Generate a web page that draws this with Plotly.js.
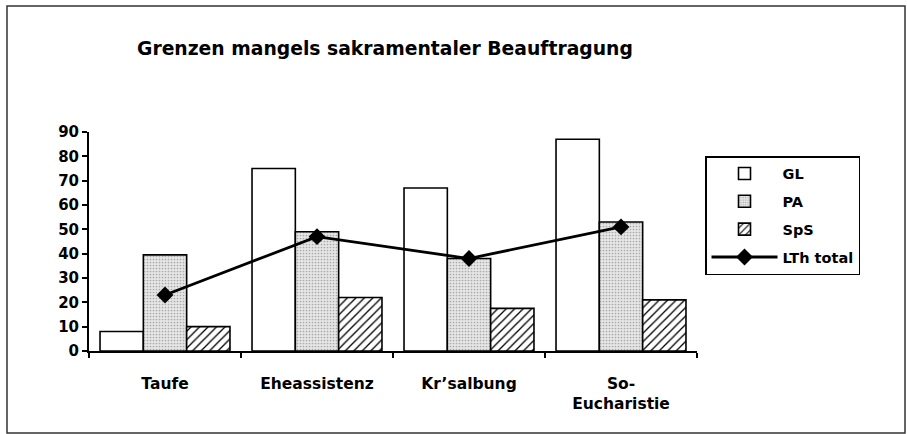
<!DOCTYPE html>
<html>
<head>
<meta charset="utf-8">
<script src="https://cdn.plot.ly/plotly-3.0.1.min.js"></script>
<style>
  html, body { margin: 0; padding: 0; background: #fff; }
  #chart { width: 907px; height: 434px; }
</style>
</head>
<body>
<div id="chart"></div>
<script>
// Sacramental tasks and survey results (percent)
const categories = ['Taufe', 'Eheassistenz', 'Kr\u2019salbung', 'So-<br>Eucharistie'];
const glValues   = [8, 75, 67, 87];
const paValues   = [39.5, 49, 38, 53];
const spsValues  = [10, 22, 17.5, 21];
const lthTotal   = [23, 47, 38, 51];
const yTicks     = [0, 10, 20, 30, 40, 50, 60, 70, 80, 90];

const W = 907, H = 434;
const margin = { l: 89, r: 210, t: 132, b: 83, pad: 0 };
const plotW = W - margin.l - margin.r;
const plotH = H - margin.t - margin.b;
// pixel -> paper coordinate helpers
const px = x => (x - margin.l) / plotW;
const py = y => (H - margin.b - y) / plotH;

const fontFam = 'DejaVu Sans, Arial, sans-serif';
const boldFont = (size) => ({ family: fontFam, size: size, color: '#000', weight: 'bold' });

const outline = { color: '#000', width: 1.6 };

const traces = [
  {
    type: 'bar', name: 'GL', x: categories, y: glValues,
    marker: { color: '#ffffff', line: outline },
    legendgroup: 'g1'
  },
  {
    type: 'bar', name: 'PA', x: categories, y: paValues,
    marker: {
      color: '#e3e3e3', line: outline,
      pattern: { shape: '.', fgcolor: '#a8a8a8', bgcolor: '#e6e6e6', size: 3, solidity: 0.25 }
    },
    legendgroup: 'g2'
  },
  {
    type: 'bar', name: 'SpS', x: categories, y: spsValues,
    marker: {
      color: '#ffffff', line: outline,
      pattern: { shape: '/', fgcolor: '#000', bgcolor: '#fff', size: 6, solidity: 0.22 }
    },
    legendgroup: 'g3'
  },
  {
    type: 'scatter', mode: 'lines+markers', name: 'LTh total', x: categories, y: lthTotal,
    line: { color: '#000', width: 2.8 },
    marker: { symbol: 'diamond', size: 13, color: '#000' },
    legendgroup: 'g4'
  }
];

const layout = {
  width: W, height: H,
  margin: margin,
  paper_bgcolor: '#fff', plot_bgcolor: '#fff',
  showlegend: true,
  barmode: 'group', bargap: 0.145, bargroupgap: 0,
  title: {
    text: 'Grenzen mangels sakramentaler Beauftragung',
    font: boldFont(18.75),
    xref: 'paper', x: px(137), xanchor: 'left',
    yref: 'container', y: 1 - 48 / H, yanchor: 'middle'
  },
  xaxis: {
    type: 'category',
    showline: true, linecolor: '#000', linewidth: 2,
    ticks: 'outside', tickson: 'boundaries', ticklen: 5, tickwidth: 2, tickcolor: '#000',
    tickfont: boldFont(15.5), ticklabelstandoff: 17,
    showgrid: false, zeroline: false, fixedrange: true
  },
  yaxis: {
    range: [0, 90], tickvals: yTicks,
    showline: true, linecolor: '#000', linewidth: 2,
    ticks: 'outside', ticklen: 5, tickwidth: 2, tickcolor: '#000',
    tickfont: boldFont(15),
    showgrid: false, zeroline: false, fixedrange: true
  },
  legend: {
    x: px(705), y: py(156), xanchor: 'left', yanchor: 'top',
    bordercolor: '#000', borderwidth: 1.5, bgcolor: '#fff',
    font: boldFont(14.5),
    traceorder: 'grouped', tracegroupgap: 6,
    itemwidth: 66
  },
  shapes: [
    {
      type: 'rect', xref: 'paper', yref: 'paper',
      x0: px(7), x1: px(905), y0: py(433), y1: py(6),
      line: { color: '#333', width: 1.5 }, fillcolor: 'rgba(0,0,0,0)', layer: 'below'
    }
  ]
};

Plotly.newPlot('chart', traces, layout, { displayModeBar: false, staticPlot: true });
</script>
</body>
</html>
